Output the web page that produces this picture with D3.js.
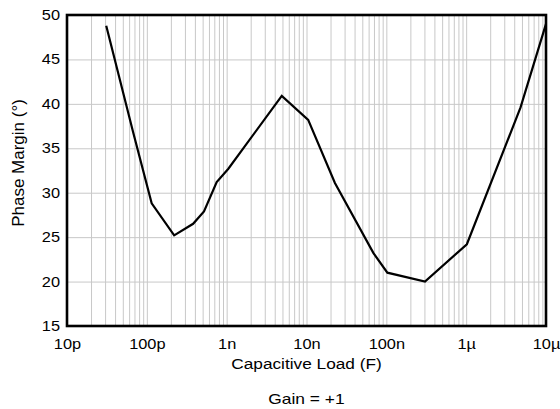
<!DOCTYPE html>
<html><head><meta charset="utf-8">
<script src="https://cdn.jsdelivr.net/npm/d3@7"></script>
<style>
body{margin:0;background:#fff;}
text{font-family:Arial,"Liberation Sans",sans-serif;fill:#000;}
</style></head>
<body><svg id="c" width="560" height="409"></svg>
<script>
const capacitance = [3.1e-11, 6.7e-11, 1.15e-10, 2.2e-10, 3.8e-10, 5.2e-10, 7.5e-10, 1.05e-9, 4.9e-9, 1.05e-8, 2.27e-8, 6.9e-8, 1.03e-7, 3.05e-7, 1.02e-6, 4.8e-6, 1e-5];
const phaseMargin = [48.8, 36.9, 28.8, 25.2, 26.5, 27.9, 31.2, 32.7, 40.9, 38.2, 31.1, 23.2, 21.0, 20.0, 24.2, 39.6, 49.0];
const xTickValues = [1e-11, 1e-10, 1e-9, 1e-8, 1e-7, 1e-6, 1e-5];
const xTickLabels = ["10p", "100p", "1n", "10n", "100n", "1\u00b5", "10\u00b5"];
const yTickValues = [15, 20, 25, 30, 35, 40, 45, 50];

const L = 67, R = 546, T = 15, B = 326;
const SX = 1.17;
const svg = d3.select("#c");
const x = d3.scaleLog().domain([1e-11, 1e-5]).range([L, R]);
const y = d3.scaleLinear().domain([15, 50]).range([B, T]);

// minor + major vertical grid
const gridX = [];
for (let e = -11; e < -5; e++) for (let m = 1; m <= 9; m++) gridX.push(m * Math.pow(10, e));
svg.append("g").attr("transform", `translate(0,${B})`)
  .call(d3.axisBottom(x).tickValues(gridX).tickSize(-(B - T)).tickFormat(""))
  .call(g => g.select(".domain").remove())
  .call(g => g.selectAll("line").attr("stroke", "#c8c8c8").attr("stroke-width", 1));
svg.append("g").attr("transform", `translate(${L},0)`)
  .call(d3.axisLeft(y).tickValues(yTickValues).tickSize(-(R - L)).tickFormat(""))
  .call(g => g.select(".domain").remove())
  .call(g => g.selectAll("line").attr("stroke", "#c8c8c8").attr("stroke-width", 1));

// tick labels
svg.append("g").attr("transform", `translate(0,${B})`)
  .call(d3.axisBottom(x).tickValues(xTickValues).tickSize(0).tickPadding(13)
    .tickFormat((d, i) => xTickLabels[i]))
  .call(g => g.select(".domain").remove())
  .call(g => g.selectAll("text").attr("font-size", 14).attr("transform", `scale(${SX},1)`)
    .attr("font-family", "Arial, 'Liberation Sans', sans-serif").attr("fill", "#000"));
svg.append("g").attr("transform", `translate(${L},0)`)
  .call(d3.axisLeft(y).tickValues(yTickValues).tickSize(0).tickPadding(7))
  .call(g => g.select(".domain").remove())
  .call(g => g.selectAll("text").attr("font-size", 14).attr("x", -7 / SX).attr("transform", `scale(${SX},1)`)
    .attr("font-family", "Arial, 'Liberation Sans', sans-serif").attr("fill", "#000"));

// data line
const line = d3.line().x((d, i) => x(capacitance[i])).y(d => y(d));
svg.append("path").datum(phaseMargin).attr("d", line)
  .attr("fill", "none").attr("stroke", "#000").attr("stroke-width", 2.2).attr("stroke-linejoin", "miter");

// frame
svg.append("rect").attr("x", L).attr("y", T).attr("width", R - L).attr("height", B - T)
  .attr("fill", "none").attr("stroke", "#000").attr("stroke-width", 2.6);

// titles
svg.append("text").attr("transform", `translate(${(L + R) / 2},369) scale(1.15,1)`).attr("text-anchor", "middle")
  .attr("font-size", 15).text("Capacitive Load (F)");
svg.append("text").attr("transform", `translate(24,163) rotate(-90)`).attr("text-anchor", "middle")
  .attr("font-size", 17).text("Phase Margin (\u00b0)");
svg.append("text").attr("transform", `translate(${(L + R) / 2},404) scale(1.16,1)`).attr("text-anchor", "middle")
  .attr("font-size", 15).text("Gain = +1");
</script></body></html>
